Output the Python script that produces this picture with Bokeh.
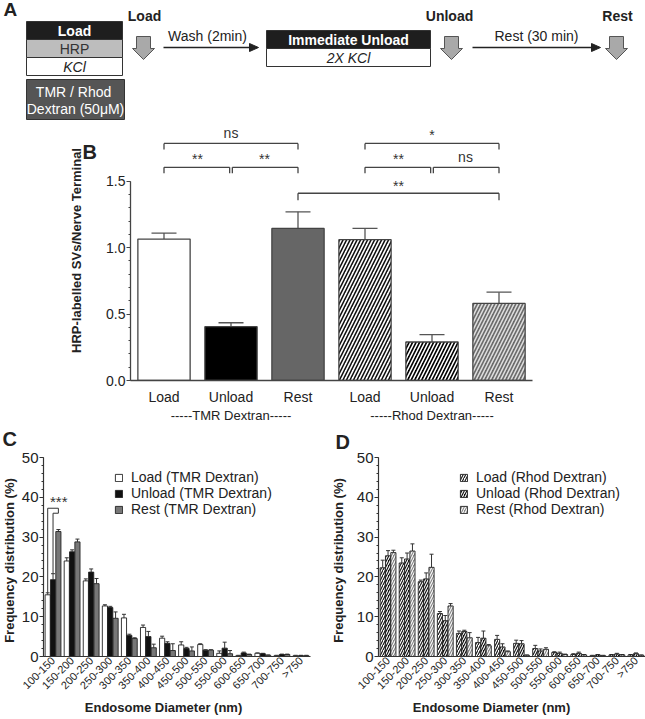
import math
from bokeh.plotting import figure
from bokeh.models import (ColumnDataSource, FactorRange, Range1d, Whisker, TeeHead,
                          SingleIntervalTicker, NumeralTickFormatter, Legend, LegendItem,
                          CategoricalAxis)
from bokeh.layouts import column, row
from bokeh.transform import dodge
from bokeh.core.properties import value
from bokeh.embed import file_html
from bokeh.resources import INLINE

FONT = "Liberation Sans"
INK = "#222222"

# ---------------- data: panel B ----------------
b_groups = ["-----TMR Dextran-----", "-----Rhod Dextran-----"]
b_conditions = ["Load", "Unload", "Rest"]
b_tmr_mean = [1.065, 0.405, 1.145]
b_tmr_sem = [0.045, 0.03, 0.125]
b_rhod_mean = [1.06, 0.29, 0.58]
b_rhod_sem = [0.085, 0.055, 0.085]

# ---------------- data: panels C and D ----------------
diam_bins = ["100-150", "150-200", "200-250", "250-300", "300-350", "350-400", "400-450",
             "450-500", "500-550", "550-600", "600-650", "650-700", "700-750", ">750"]
c_load = [15.5, 24.0, 19.0, 12.7, 9.7, 7.3, 4.6, 2.9, 3.0, 0.8, 0.2, 0.8, 0.2, 0.2]
c_load_err = [0.5, 0.8, 0.5, 0.3, 0.9, 0.6, 0.5, 0.8, 0.2, 0.6, 0.1, 0.1, 0.1, 0.1]
c_unload = [19.3, 26.3, 21.2, 12.3, 5.3, 5.0, 3.3, 2.0, 1.6, 2.1, 0.9, 0.7, 0.5, 0.2]
c_unload_err = [1.5, 0.5, 0.8, 0.3, 0.3, 1.3, 0.4, 0.3, 0.1, 1.5, 0.2, 0.1, 0.1, 0.1]
c_rest = [31.4, 28.8, 18.3, 9.6, 4.5, 2.2, 1.5, 1.4, 1.6, 0.7, 0.5, 0.3, 0.5, 0.2]
c_rest_err = [0.5, 0.7, 1.3, 1.6, 0.2, 0.9, 1.7, 1.0, 0.1, 0.8, 0.1, 0.1, 0.1, 0.1]

d_load = [22.3, 23.5, 18.8, 10.8, 5.8, 3.5, 4.3, 3.3, 2.0, 1.0, 0.5, 0.2, 0.4, 0.4]
d_load_err = [1.9, 1.3, 0.4, 0.5, 0.6, 1.3, 1.0, 0.8, 0.8, 0.2, 0.2, 0.1, 0.1, 0.1]
d_unload = [25.3, 24.5, 19.5, 9.0, 6.3, 4.6, 2.4, 3.2, 1.4, 0.8, 0.8, 0.4, 0.6, 0.7]
d_unload_err = [1.3, 1.5, 1.5, 1.3, 0.3, 1.8, 0.8, 0.8, 0.5, 0.3, 0.3, 0.1, 0.2, 0.2]
d_rest = [26.1, 26.5, 22.4, 12.7, 4.7, 2.7, 1.2, 0.3, 1.8, 0.5, 0.4, 0.2, 0.4, 0.3]
d_rest_err = [0.6, 1.8, 3.3, 0.6, 1.3, 0.3, 0.2, 0.1, 0.4, 0.1, 0.1, 0.1, 0.1, 0.1]


def text_strip(width, height, x0, y0):
    """A small axis-less figure whose coordinates are page pixels (for panel letters/titles)."""
    s = figure(width=width, height=height, x_range=Range1d(x0, x0 + width),
               y_range=Range1d(y0 + height, y0), x_axis_location=None, y_axis_location=None,
               toolbar_location=None, output_backend="svg", min_border=0)
    s.outline_line_color = None
    s.grid.visible = False
    return s


def put_text(p, xs, ys, texts, size="14px", style="normal", angle=0.0, align="center",
             color=INK):
    p.text(x=xs, y=ys, text=texts, text_font=value(FONT), text_font_size=size,
           text_font_style=style, text_color=color, text_align=align,
           text_baseline="middle", angle=angle)


# ================= Panel A : protocol diagram =================
pa = text_strip(645, 125, 0, 0)
box_src = ColumnDataSource(dict(
    left=[26, 26, 26, 26, 266, 266], right=[122, 122, 122, 124, 430, 430],
    top=[21, 39, 57, 79, 30, 48], bottom=[39, 57, 75, 119, 48, 66],
    fill=["#1e1e1e", "#bdbdbd", "#ffffff", "#555555", "#1e1e1e", "#ffffff"]))
pa.quad(left="left", right="right", top="top", bottom="bottom", fill_color="fill",
        line_color="#333333", line_width=1, source=box_src)

arrow_centers = [143, 451, 616]
pa.patches(xs=[[c - 7, c + 7, c + 7, c + 11, c, c - 11, c - 7] for c in arrow_centers],
           ys=[[36, 36, 48, 48, 59, 48, 48]] * 3,
           fill_color="#a9a9a9", line_color="#555555", line_width=1)
pa.segment(x0=[163, 472], y0=[47, 47], x1=[250, 592], y1=[47, 47], line_color=INK, line_width=1.3)
pa.patches(xs=[[249, 258, 249], [591, 600, 591]], ys=[[43, 47, 51], [43, 47, 51]],
           fill_color=INK, line_color=INK)

txt_src = ColumnDataSource(dict(
    x=[74, 74, 74, 75, 75, 144, 207, 348, 348, 449, 536, 617],
    y=[30, 48, 66, 91, 108, 15, 35, 39, 57, 15, 35, 15],
    text=["Load", "HRP", "KCl", "TMR  / Rhod", "Dextran (50μM)", "Load", "Wash (2min)",
          "Immediate Unload", "2X KCl", "Unload", "Rest (30 min)", "Rest"],
    style=["bold", "normal", "italic", "normal", "normal", "bold", "normal",
           "bold", "italic", "bold", "normal", "bold"],
    color=["#ffffff", "#333333", INK, "#ffffff", "#ffffff", INK, INK,
           "#ffffff", INK, INK, INK, INK]))
pa.text(x="x", y="y", text="text", text_font=value(FONT), text_font_size="14px",
        text_font_style="style", text_color="color", text_align="center",
        text_baseline="middle", source=txt_src)
put_text(pa, [3], [9], ["A"], size="19px", style="bold", align="left")

# ================= Panel B : HRP-labelled SVs =================
b_strip = text_strip(100, 300, 0, 125)
put_text(b_strip, [82], [151], ["B"], size="20px", style="bold", align="left")
put_text(b_strip, [76], [250], ["HRP-labelled SVs/Nerve Terminal"], size="13px",
         style="bold", angle=math.pi / 2)

# category keys: the Rhod ones carry an invisible zero-width space so they stay unique
kT = list(b_conditions)
kR = [c + "\u200b" for c in b_conditions]
b_keys = kT + kR
b_means = b_tmr_mean + b_rhod_mean
b_sems = b_tmr_sem + b_rhod_sem
b_src = ColumnDataSource(dict(
    x=b_keys, top=b_means, upper=[m + s for m, s in zip(b_means, b_sems)],
    fill=["#ffffff", "#000000", "#666666", "#ffffff", "#000000", "#6a6a6a"],
    hatch=[" ", " ", " ", "/", "/", "/"],
    hcolor=["#000000", "#000000", "#000000", "#111111", "#ffffff", "#dddddd"]))

pb = figure(width=545, height=300, x_range=FactorRange(*b_keys),
            y_range=Range1d(0, 1.92), toolbar_location=None, output_backend="svg",
            min_border_left=30, min_border_right=113, min_border_top=0, min_border_bottom=44)
pb.outline_line_color = None
pb.grid.visible = False
pb.vbar(x="x", top="top", bottom=0, width=0.78, source=b_src, fill_color="fill",
        line_color="#444444", line_width=1.3, hatch_pattern="hatch", hatch_color="hcolor",
        hatch_scale=7, hatch_weight=1.6)
pb.add_layout(Whisker(base="x", lower="top", upper="upper", source=b_src,
                      line_color="#555555", line_width=1.3, lower_head=None,
                      upper_head=TeeHead(size=25, line_color="#555555", line_width=1.3)))

pb.extra_x_ranges = {"grp": FactorRange(*b_groups)}
grp_axis = CategoricalAxis(x_range_name="grp")
pb.add_layout(grp_axis, "below")

pb.yaxis.bounds = (0, 1.5)
pb.yaxis.ticker = SingleIntervalTicker(interval=0.5, num_minor_ticks=5)
pb.yaxis.formatter = NumeralTickFormatter(format="0.0")
for ax in (pb.xaxis[0], pb.yaxis[0]):
    ax.axis_line_color = "#444444"
    ax.axis_line_width = 1.3
    ax.major_label_text_font = FONT
    ax.major_label_text_font_size = "14px"
    ax.major_label_text_color = INK
pb.yaxis.major_tick_out = 4
pb.yaxis.major_tick_in = 0
pb.yaxis.minor_tick_out = 2
pb.yaxis.minor_tick_in = 0
pb.yaxis.major_tick_line_color = "#444444"
pb.yaxis.minor_tick_line_color = "#444444"
pb.yaxis.major_label_standoff = 1
main_x = pb.xaxis[0]
main_x.major_tick_line_color = None
main_x.minor_tick_line_color = None
main_x.major_tick_out = 0
main_x.major_tick_in = 0
main_x.major_label_standoff = 8
grp_axis.axis_line_color = None
grp_axis.major_tick_line_color = None
grp_axis.minor_tick_line_color = None
grp_axis.major_tick_out = 0
grp_axis.major_tick_in = 0
grp_axis.major_label_standoff = 0
grp_axis.major_label_text_font = FONT
grp_axis.major_label_text_font_size = "13px"
grp_axis.major_label_text_color = INK

# brackets: (start, end, top level, drop)
brackets = [
    (kT[0], kT[2], 1.785, 0.045),
    (kT[0], (kT[1], -0.02), 1.605, 0.045),
    ((kT[1], 0.02), kT[2], 1.605, 0.045),
    (kR[0], kR[2], 1.785, 0.045),
    (kR[0], (kR[1], -0.02), 1.605, 0.045),
    ((kR[1], 0.02), kR[2], 1.605, 0.045),
    (kT[2], kR[2], 1.41, 0.053),
]
bx0, by0, bx1, by1 = [], [], [], []
for a, b, ytop, drop in brackets:
    bx0 += [a, a, b]
    by0 += [ytop, ytop, ytop]
    bx1 += [b, a, b]
    by1 += [ytop, ytop - drop, ytop - drop]
pb.segment(x0=bx0, y0=by0, x1=bx1, y1=by1, line_color="#444444", line_width=1.3)
sig_src = ColumnDataSource(dict(
    x=[kT[1], (kT[0], 0.5), (kT[1], 0.5), kR[1], (kR[0], 0.5), (kR[1], 0.5), (kR[0], 0.5)],
    y=[1.865, 1.67, 1.67, 1.85, 1.67, 1.685, 1.465],
    text=["ns", "**", "**", "*", "**", "ns", "**"]))
pb.text(x="x", y="y", text="text", source=sig_src, text_font=value(FONT),
        text_font_size="14px", text_color="#333333", text_align="center",
        text_baseline="middle")


# ================= Panels C and D : size distributions =================
def freq_panel(width, border_left, border_right, series, legend_x):
    p = figure(width=width, height=273, x_range=FactorRange(*diam_bins),
               y_range=Range1d(0, 50), toolbar_location=None, output_backend="svg",
               min_border_left=border_left, min_border_right=border_right,
               min_border_top=32, min_border_bottom=41)
    p.outline_line_color = None
    p.grid.visible = False
    offsets = [-0.28, 0.0, 0.28]
    items = []
    for (name, vals, errs, fill, hatch, hcolor), off in zip(series, offsets):
        src = ColumnDataSource(dict(x=diam_bins, top=vals,
                                    upper=[v + e for v, e in zip(vals, errs)]))
        r = p.vbar(x=dodge("x", off, range=p.x_range), top="top", bottom=0, width=0.27,
                   source=src, fill_color=fill, line_color="#222222", line_width=0.9,
                   hatch_pattern=hatch, hatch_color=hcolor, hatch_scale=5, hatch_weight=1.1)
        p.add_layout(Whisker(base=dodge("x", off, range=p.x_range), lower="top", upper="upper",
                             source=src, line_color="#333333", line_width=1, lower_head=None,
                             upper_head=TeeHead(size=4, line_color="#333333", line_width=1)))
        items.append(LegendItem(label=name, renderers=[r]))
    legend = Legend(items=items, location=(legend_x, 139), padding=0, margin=0, spacing=0,
                    glyph_width=9, glyph_height=9, label_height=16, label_standoff=8,
                    border_line_color=None, background_fill_alpha=0,
                    label_text_font=FONT, label_text_font_size="14px", label_text_color=INK)
    p.add_layout(legend)
    p.yaxis.ticker = SingleIntervalTicker(interval=10, num_minor_ticks=5)
    for ax in (p.xaxis[0], p.yaxis[0]):
        ax.axis_line_color = "#333333"
        ax.axis_line_width = 1.2
        ax.major_label_text_font = FONT
        ax.major_label_text_color = INK
    p.yaxis.major_label_text_font_size = "15px"
    p.yaxis.major_tick_out = 4
    p.yaxis.major_tick_in = 0
    p.yaxis.minor_tick_out = 2
    p.yaxis.minor_tick_in = 0
    p.yaxis.major_tick_line_color = "#333333"
    p.yaxis.minor_tick_line_color = "#333333"
    p.yaxis.major_label_standoff = 1
    p.xaxis.major_tick_line_color = None
    p.xaxis.minor_tick_line_color = None
    p.xaxis.major_tick_out = 0
    p.xaxis.major_tick_in = 0
    p.xaxis.major_label_orientation = math.pi / 4
    p.xaxis.major_label_text_font_size = "11px"
    p.xaxis.major_label_standoff = 2
    return p


c_series = [
    ("Load (TMR Dextran)", c_load, c_load_err, "#ffffff", None, None),
    ("Unload (TMR Dextran)", c_unload, c_unload_err, "#111111", None, None),
    ("Rest (TMR Dextran)", c_rest, c_rest_err, "#777777", None, None),
]
d_series = [
    ("Load (Rhod Dextran)", d_load, d_load_err, "#ffffff", "/", "#111111"),
    ("Unload (Rhod Dextran)", d_unload, d_unload_err, "#111111", "/", "#ffffff"),
    ("Rest (Rhod Dextran)", d_rest, d_rest_err, "#888888", "/", "#ffffff"),
]
c_strip = text_strip(18, 273, 0, 425)
put_text(c_strip, [2], [438], ["C"], size="20px", style="bold", align="left")
put_text(c_strip, [9], [560], ["Frequency distribution (%)"], size="13px", style="bold",
         angle=math.pi / 2)
pc = freq_panel(308, 22, 16, c_series, 71)

d_strip = text_strip(27, 273, 326, 425)
put_text(d_strip, [335], [441], ["D"], size="20px", style="bold", align="left")
put_text(d_strip, [338], [560], ["Frequency distribution (%)"], size="13px", style="bold",
         angle=math.pi / 2)
pd_ = freq_panel(292, 24, 0, d_series, 81)

x_strip = text_strip(645, 21, 0, 698)
put_text(x_strip, [163, 491], [707, 707], ["Endosome Diameter (nm)"] * 2, size="13px",
         style="bold")

# significance bracket in C (Load / Unload vs Rest, 100-150 nm)
b0 = diam_bins[0]
pc.segment(x0=[(b0, -0.28), (b0, -0.28), (b0, 0.28), (b0, 0.0), (b0, 0.0)],
           y0=[c_load[0] + c_load_err[0], 37.25, 37.25, c_unload[0] + c_unload_err[0], 36.0],
           x1=[(b0, -0.28), (b0, 0.28), (b0, 0.28), (b0, 0.0), (b0, 0.28)],
           y1=[37.25, 37.25, 36.0, 36.0, 36.0],
           line_color="#333333", line_width=1)
pc.text(x=[(b0, 0.3)], y=[39.0], text=["***"], text_font=value(FONT), text_font_size="15px",
        text_color="#333333", text_align="center", text_baseline="middle")

layout = column(
    row(column(pa)),
    row(column(b_strip), column(pb)),
    row(column(c_strip), column(pc), column(d_strip), column(pd_)),
    row(column(x_strip)),
)
open("out.html", "w").write(file_html(layout, INLINE))
